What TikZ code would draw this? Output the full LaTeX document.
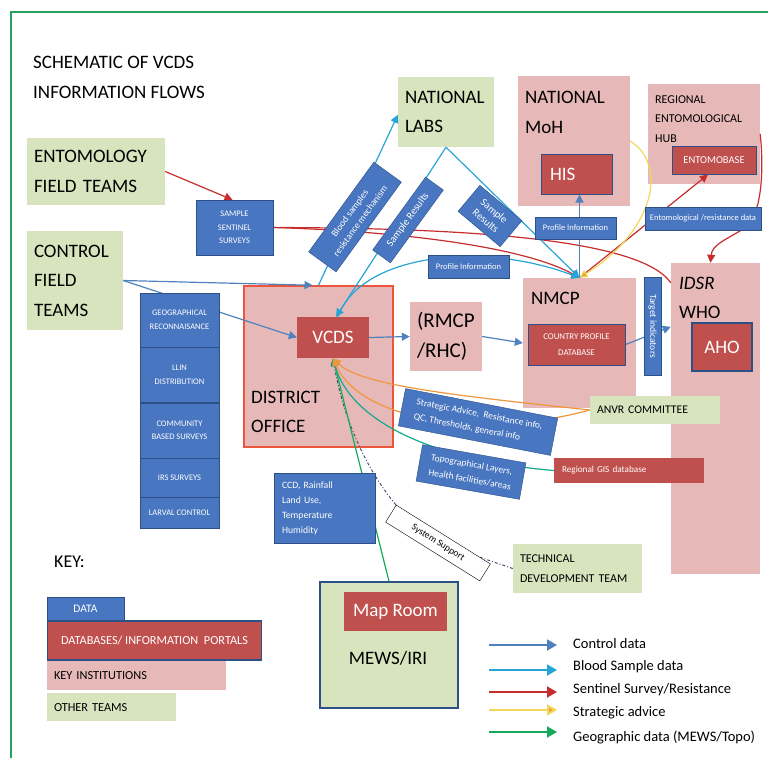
\documentclass[tikz,border=0pt]{standalone}
\usepackage{fontspec}
\setmainfont{Carlito}
\usepackage{tikz}
\usetikzlibrary{positioning}
\usetikzlibrary{arrows.meta}
\definecolor{datablue}{RGB}{72,118,192}
\definecolor{dataedge}{RGB}{45,80,135}
\definecolor{dbred}{RGB}{192,80,77}
\definecolor{instpink}{RGB}{230,185,184}
\definecolor{teamgreen}{RGB}{215,228,189}
\definecolor{framegreen}{RGB}{40,160,95}
\definecolor{officered}{RGB}{235,85,60}
\definecolor{ctrlblue}{RGB}{79,129,189}
\definecolor{bloodcyan}{RGB}{40,165,215}
\definecolor{sentred}{RGB}{200,45,45}
\definecolor{adviceyel}{RGB}{240,215,90}
\definecolor{adviceorg}{RGB}{240,150,60}
\definecolor{geogreen}{RGB}{20,170,90}
\definecolor{gisteal}{RGB}{20,170,140}
\definecolor{sysgrey}{RGB}{70,80,110}
\pgfdeclarelayer{back}
\pgfdeclarelayer{front}
\pgfsetlayers{back,main,front}
\tikzstyle{bigfont} = [font=\fontsize{19}{29.5}\selectfont]
\tikzstyle{midfont} = [font=\fontsize{12}{19.5}\selectfont]
\tikzstyle{databox} = [rectangle, draw=dataedge, fill=datablue, text=white, align=center, inner sep=0pt, font=\fontsize{8.5}{13.5}\selectfont]
\tikzstyle{dbbox} = [rectangle, fill=dbred, text=white, align=center, inner sep=0pt]
\tikzstyle{instbox} = [rectangle, fill=instpink, inner sep=0pt]
\tikzstyle{teambox} = [rectangle, fill=teamgreen, inner sep=7pt, align=left]
\tikzstyle{label} = [inner sep=0pt, align=left]
\tikzstyle{keytext} = [inner sep=0pt, anchor=west, font=\fontsize{14.5}{16}\selectfont]
\tikzstyle{ctrlflow} = [draw=ctrlblue, line width=1.2pt, -{Triangle[length=8pt,width=8pt]}]
\tikzstyle{bloodflow} = [draw=bloodcyan, line width=1.2pt, -{Triangle[length=8pt,width=8pt]}]
\tikzstyle{sentflow} = [draw=sentred, line width=1.2pt, -{Triangle[length=8pt,width=8pt]}]
\tikzstyle{adviceflow} = [draw=adviceorg, line width=1.2pt, -{Triangle[length=8pt,width=8pt,fill=adviceorg]}]
\tikzstyle{geoflow} = [draw=geogreen, line width=1.2pt, -{Triangle[length=8pt,width=8pt]}]
\tikzstyle{supportflow} = [draw=sysgrey, line width=1pt, dash dot, -{Triangle[length=7pt,width=7pt]}]
\tikzstyle{keyflow} = [line width=2pt, -{Triangle[length=10pt,width=11pt]}]

\begin{document}
\begin{tikzpicture}[x=1pt, y=-1pt]
	\useasboundingbox (0,0) rectangle (768,758);
	\draw [framegreen, line width=2pt] (768,12) -- (11,12) -- (11,758);

	% title node
	\node [label, bigfont, anchor=west] (title) at (33,77.5) {SCHEMATIC OF VCDS\\INFORMATION FLOWS};

	% institutions and teams
	\begin{pgfonlayer}{back}
	\node [teambox, bigfont, text width=124pt, minimum height=67pt] (ento) at (96,171.5) {ENTOMOLOGY\\FIELD TEAMS};
	\node [teambox, bigfont, text width=82pt, minimum height=99pt] (control) at (75,280.5) {CONTROL\\FIELD\\TEAMS};
	\node [teambox, bigfont, text width=82pt, minimum height=70pt] (labs) at (446,112) {NATIONAL\\LABS};
	\node [instbox, draw=officered, line width=1.5pt, minimum width=149pt, minimum height=161pt] (office) at (318.5,366.5) {};
	\node [instbox, minimum width=112pt, minimum height=130pt] (moh) at (574,141) {};
	\node [instbox, minimum width=112pt, minimum height=100pt] (hub) at (704,134) {};
	\node [instbox, minimum width=113pt, minimum height=130pt] (nmcp) at (579.5,343) {};
	\node [instbox, minimum width=89pt, minimum height=311pt] (idsr) at (715.5,418.5) {};
	\node [instbox, font=\fontsize{21}{29.5}\selectfont, align=left, text width=58pt, inner sep=7pt, minimum height=69pt] (rmcp) at (446,336.5) {(RMCP\\/RHC)};
	\node [teambox, draw=dataedge, line width=1.5pt, minimum width=138pt, minimum height=126pt] (mews) at (389,645) {};
	\end{pgfonlayer}

	% place nodes
	\begin{pgfonlayer}{front}
	\node [label, bigfont, anchor=west] (officelabel) at (251,412) {DISTRICT\\OFFICE};
	\node [label, bigfont, anchor=west] (mohlabel) at (525,112.5) {NATIONAL\\MoH};
	\node [label, midfont, anchor=west] (hublabel) at (655,119) {REGIONAL\\ENTOMOLOGICAL\\HUB};
	\node [label, bigfont, anchor=west] (nmcplabel) at (531,298) {NMCP};
	\node [label, bigfont, anchor=west] (idsrlabel) at (679,298) {\textit{IDSR}\\WHO};
	\node [label, bigfont] (mewslabel) at (388,658) {MEWS/IRI};

	\node [dbbox, bigfont, minimum width=72pt, minimum height=41pt] (vcds) at (333,337.5) {VCDS};
	\node [dbbox, draw=dataedge, line width=1pt, bigfont, text width=53pt, align=left, minimum width=71pt, minimum height=40pt] (his) at (576.5,174) {HIS};
	\node [dbbox, draw=dataedge, line width=1pt, font=\fontsize{10.5}{12}\selectfont, minimum width=84pt, minimum height=28pt] (entomobase) at (714,160) {ENTOMOBASE};
	\node [dbbox, draw=dataedge, line width=1pt, font=\fontsize{8.8}{16}\selectfont, minimum width=97pt, minimum height=41pt] (profiledb) at (576.5,344.5) {COUNTRY PROFILE\\DATABASE};
	\node [dbbox, draw=dataedge, line width=1.5pt, bigfont, minimum width=60pt, minimum height=48pt] (aho) at (722,347) {AHO};
	\node [dbbox, bigfont, minimum width=103pt, minimum height=39pt] (maproom) at (395.5,611.5) {Map Room};
	\node [dbbox, font=\fontsize{9.2}{11}\selectfont, align=left, text width=134pt, inner xsep=8pt, minimum height=25pt] (gis) at (629,470.5) {Regional GIS database};

	\node [databox, minimum width=77pt, minimum height=55pt] (sentinel) at (234.5,227.5) {SAMPLE\\SENTINEL\\SURVEYS};
	\node [databox, minimum width=79pt, minimum height=54pt] (geo) at (179.5,320) {GEOGRAPHICAL\\RECONNAISANCE};
	\node [databox, minimum width=79pt, minimum height=55pt, below=0pt of geo] (llin) {LLIN\\DISTRIBUTION};
	\node [databox, minimum width=79pt, minimum height=55pt, below=0pt of llin] (community) {COMMUNITY\\BASED SURVEYS};
	\node [databox, minimum width=79pt, minimum height=39pt, below=0pt of community] (irs) {IRS SURVEYS};
	\node [databox, minimum width=79pt, minimum height=31pt, below=0pt of irs] (larval) {LARVAL CONTROL};
	\node [databox, minimum width=81pt, minimum height=22pt] (profileup) at (575.5,228) {Profile Information};
	\node [databox, minimum width=116pt, minimum height=23pt] (entodata) at (703,218.5) {Entomological /resistance data};
	\node [databox, minimum width=81pt, minimum height=23pt] (profilelow) at (468.5,266.5) {Profile Information};
	\node [databox, rotate=54, font=\fontsize{9.5}{13}\selectfont, minimum width=111pt, minimum height=34pt] (blood) at (355,217) {Blood samples\\resistance mechanism};
	\node [databox, rotate=54, font=\fontsize{10.5}{12}\selectfont, minimum width=90pt, minimum height=22pt] (resultsvcds) at (408,220) {Sample Results};
	\node [databox, rotate=-40, font=\fontsize{10.5}{13}\selectfont, minimum width=55pt, minimum height=34pt] (resultsnmcp) at (490,216) {Sample\\Results};
	\node [databox, rotate=-90, font=\fontsize{9.5}{11}\selectfont, minimum width=98pt, minimum height=17pt] (target) at (652.5,326) {Target indicators};
	\node [databox, rotate=-11, align=left, font=\fontsize{9.5}{15}\selectfont, minimum width=155pt, minimum height=38pt] (advice) at (478,422) {Strategic Advice,~~Resistance info,\\QC, Thresholds, general info};
	\node [databox, rotate=-10, align=left, font=\fontsize{9.5}{15}\selectfont, minimum width=105pt, minimum height=37pt] (topo) at (471,472) {Topographical Layers,\\Health facilities/areas};
	\node [databox, align=left, font=\fontsize{9.7}{15}\selectfont, text width=85pt, inner xsep=8pt, minimum height=70pt] (climate) at (324.5,508) {CCD, Rainfall\\Land Use,\\Temperature\\Humidity};
	\node [rectangle, draw, fill=white, rotate=-32, font=\fontsize{9.5}{11}\selectfont, minimum width=111pt, minimum height=20pt] (support) at (438,543) {System Support};

	\node [teambox, font=\fontsize{11.7}{13}\selectfont, text width=116pt, minimum height=28pt] (anvr) at (655,410) {ANVR COMMITTEE};
	\node [teambox, font=\fontsize{12}{20}\selectfont, text width=115pt, minimum height=49pt] (tdt) at (577.5,568.5) {TECHNICAL\\DEVELOPMENT TEAM};

	% key
	\node [label, font=\fontsize{18}{20}\selectfont, anchor=west] (key) at (54,562) {KEY:};
	\node [databox, font=\fontsize{11.5}{13}\selectfont, minimum width=77pt, minimum height=23pt] (keydata) at (85.5,608.5) {DATA};
	\node [dbbox, draw=dataedge, line width=1.5pt, font=\fontsize{12.3}{14}\selectfont, minimum width=214pt, minimum height=39pt, below=0pt of keydata.south west, anchor=north west] (keydb) {DATABASES/ INFORMATION~~PORTALS};
	\node [instbox, font=\fontsize{12.3}{14}\selectfont, text width=165pt, inner xsep=7pt, minimum height=29pt, below=0pt of keydb.south west, anchor=north west] (keyinst) {KEY INSTITUTIONS};
	\node [teambox, font=\fontsize{12.3}{14}\selectfont, text width=115pt, inner ysep=0pt, minimum height=28pt, below=3pt of keyinst.south west, anchor=north west] (keyteam) {OTHER TEAMS};
	\end{pgfonlayer}

	% draw edges
	\path [sentflow] (ento.east) -- ([xshift=-2pt]sentinel.north);
	\path [sentflow] (sentinel.east) .. controls (420,232) and (530,250) .. (nmcp.north);
	\path [sentflow, -] (sentinel.east) .. controls (460,228) and (640,238) .. ([shift={(0,20)}]idsr.north west);
	\path [sentflow] (nmcp.north) -- ([xshift=-6pt]entomobase.south);
	\path [sentflow] (hub.east) .. controls (764,170) and (762,215) .. (745,228) .. controls (725,240) and (712,245) .. ([xshift=-5pt]idsr.north);

	\path [ctrlflow] (control.east) -- ([xshift=-6pt]office.north);
	\path [ctrlflow] (control.east) -- (vcds.west);
	\path [ctrlflow] (vcds.east) -- (rmcp.west);
	\path [ctrlflow] (rmcp.east) -- (nmcp.west);
	\path [ctrlflow] (profiledb.east) -- ([shift={(0,64)}]idsr.north west);
	\path [ctrlflow] (nmcp.north) -- (nmcp.north |- his.south);

	\path [bloodflow] (office.north) -- ([shift={(0,38)}]labs.north west);
	\path [bloodflow] (labs.south) -- ([xshift=3pt]vcds.north);
	\path [bloodflow] (labs.south) -- (nmcp.north);
	\path [bloodflow] ([xshift=5pt]vcds.north) .. controls (360,255) and (480,240) .. (nmcp.north);

	\path [supportflow] (tdt.west) -- (support.center) .. controls (380,505) and (345,430) .. (vcds.south);
	\path [geoflow] (mews.north) -- (vcds.south);
	\path [geoflow, draw=gisteal] (gis.west) .. controls (430,460) and (350,420) .. (vcds.south);
	\path [adviceflow, draw=adviceyel] (moh.east) .. controls (668,165) and (655,230) .. (nmcp.north);
	\path [adviceflow] (anvr.west) .. controls (450,395) and (360,385) .. (vcds.south);
	\path [adviceflow] (anvr.west) .. controls (480,440) and (360,420) .. (vcds.south);

	% key arrows
	\coordinate (keyctrl) at (489,645);
	\coordinate (keyblood) at (489,670);
	\coordinate (keysent) at (489,692);
	\coordinate (keyadvice) at (489,710);
	\coordinate (keygeo) at (489,732);
	\path [keyflow, draw=ctrlblue] (keyctrl) -- ++(68,0);
	\path [keyflow, draw=bloodcyan] (keyblood) -- ++(68,0);
	\path [keyflow, draw=sentred] (keysent) -- ++(68,0);
	\path [keyflow, draw=adviceyel, -{Triangle[length=10pt,width=11pt,fill=adviceorg]}] (keyadvice) -- ++(68,0);
	\path [keyflow, draw=geogreen] (keygeo) -- ++(68,0);
	\node [keytext] (ctrltext) at (573,644) {Control data};
	\node [keytext] (bloodtext) at (573,667) {Blood Sample data};
	\node [keytext] (senttext) at (573,690) {Sentinel Survey/Resistance};
	\node [keytext] (advicetext) at (573,713) {Strategic advice};
	\node [keytext] (geotext) at (573,737) {Geographic data (MEWS/Topo)};
\end{tikzpicture}
\end{document}
